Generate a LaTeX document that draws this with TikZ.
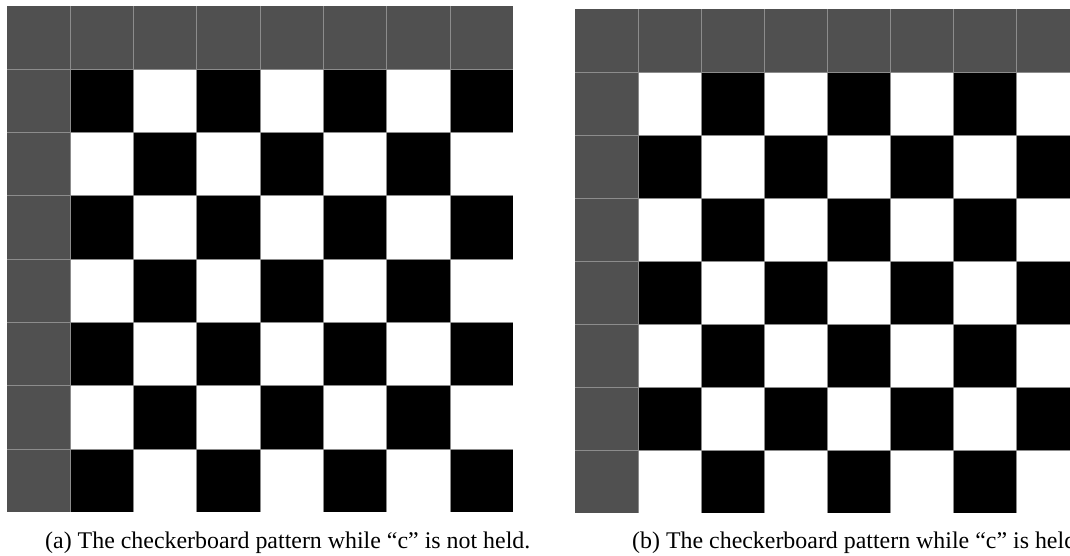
\documentclass[tikz,border=0pt]{standalone}
\usepackage{fontspec}
\setmainfont{Liberation Serif}
\definecolor{hdr}{HTML}{505050}
\definecolor{gline}{HTML}{8C8C8C}
\tikzset{
  caption/.style={font=\fontsize{23.9}{28}\selectfont, anchor=base west, inner sep=0pt},
  hcell/.style={fill=hdr},
  bcell/.style={fill=black},
  gridline/.style={draw=gline, line width=0.9pt}
}
\begin{document}
\begin{tikzpicture}[x=1pt,y=-1pt]
\useasboundingbox (0,0) rectangle (1070,555);
\clip (0,0) rectangle (1070,555);
% ---------- left board ----------
\def\lx{7}\def\ly{6}\def\lc{63.3}
\foreach \r in {0,...,7}{
  \foreach \c in {0,...,7}{
    \pgfmathtruncatemacro{\hd}{(\r==0)||(\c==0)}
    \pgfmathtruncatemacro{\bk}{mod(\r+\c,2)==0}
    \ifnum\hd=1
      \fill[hcell] ({\lx+\c*\lc},{\ly+\r*\lc}) rectangle ++(\lc,\lc);
    \else\ifnum\bk=1
      \fill[bcell] ({\lx+\c*\lc},{\ly+\r*\lc}) rectangle ++(\lc,\lc);
    \fi\fi
  }
}
\foreach \k in {1,...,7}{
  \draw[gridline] ({\lx+\k*\lc},\ly) -- ({\lx+\k*\lc},{\ly+8*\lc});
  \draw[gridline] (\lx,{\ly+\k*\lc}) -- ({\lx+8*\lc},{\ly+\k*\lc});
}
% ---------- right board ----------
\def\rx{575}\def\ry{9}\def\rc{63}
\foreach \r in {0,...,7}{
  \foreach \c in {0,...,7}{
    \pgfmathtruncatemacro{\hd}{(\r==0)||(\c==0)}
    \pgfmathtruncatemacro{\bk}{mod(\r+\c,2)==1}
    \ifnum\hd=1
      \fill[hcell] ({\rx+\c*\rc},{\ry+\r*\rc}) rectangle ++(\rc,\rc);
    \else\ifnum\bk=1
      \fill[bcell] ({\rx+\c*\rc},{\ry+\r*\rc}) rectangle ++(\rc,\rc);
    \fi\fi
  }
}
\foreach \k in {1,...,7}{
  \draw[gridline] ({\rx+\k*\rc},\ry) -- ({\rx+\k*\rc},{\ry+8*\rc});
  \draw[gridline] (\rx,{\ry+\k*\rc}) -- ({\rx+8*\rc},{\ry+\k*\rc});
}
% ---------- captions ----------
\node[caption] (capa) at (45,548) {(a) The checkerboard pattern while “c” is not held.};
\node[caption] (capb) at (632,548) {(b) The checkerboard pattern while “c” is held.};
\end{tikzpicture}
\end{document}
